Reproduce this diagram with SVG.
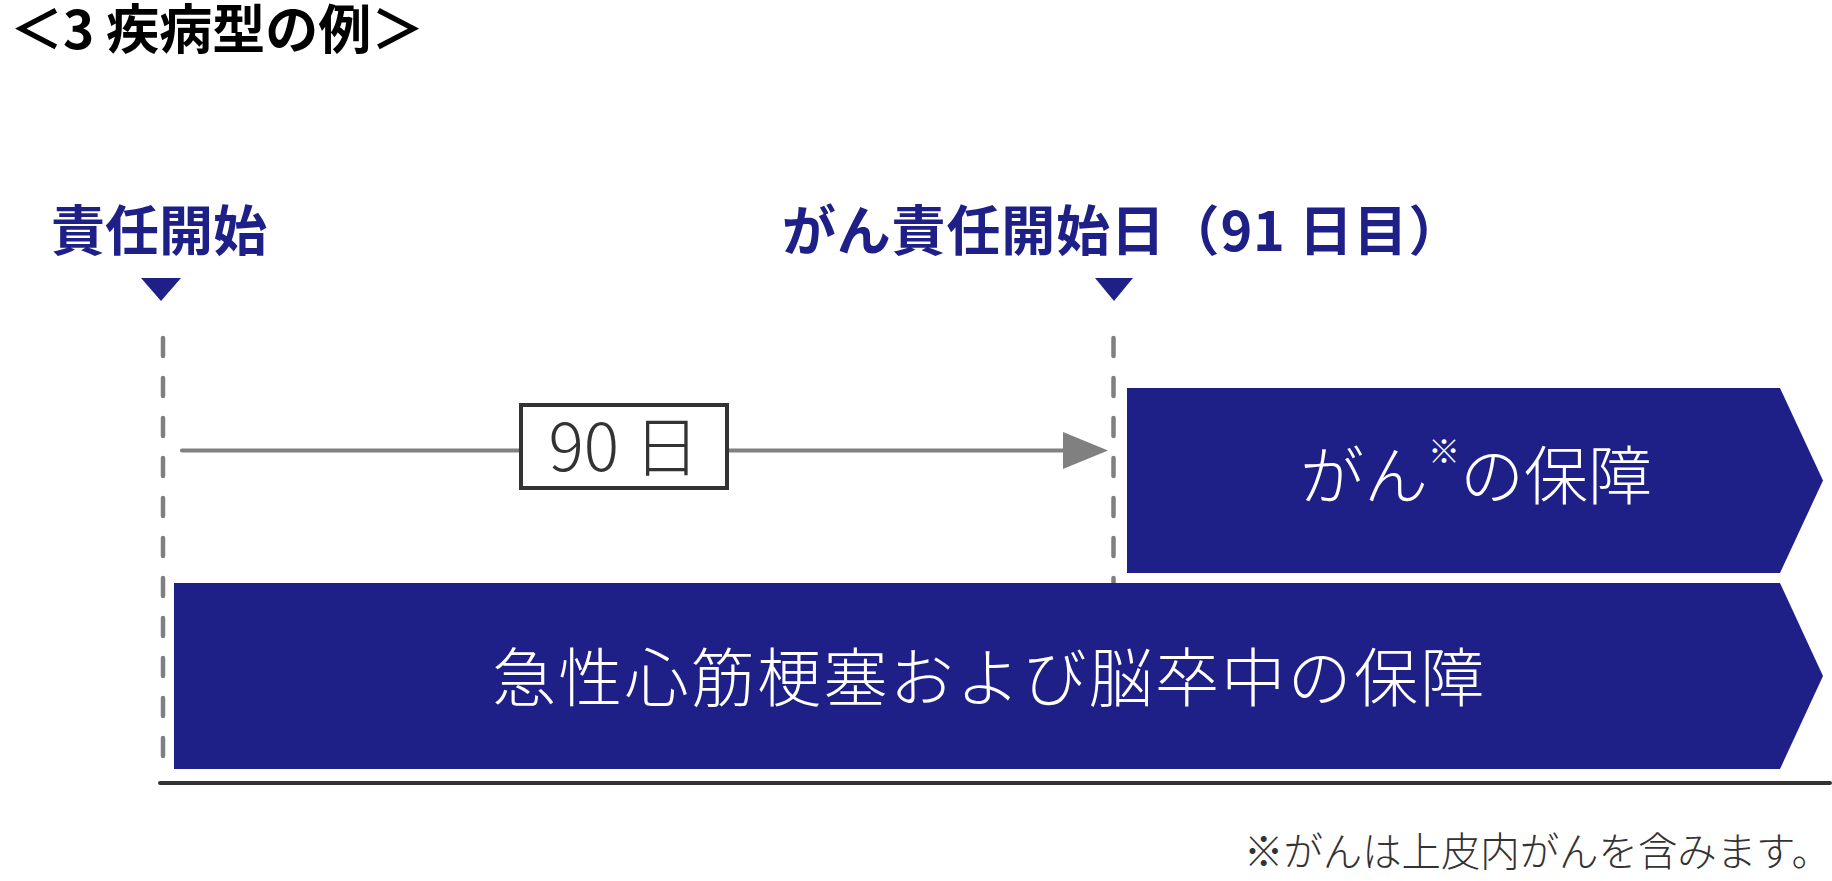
<svg xmlns="http://www.w3.org/2000/svg" width="1832" height="881" viewBox="0 0 1832 881">
<defs>
<style>
.jp{font-family:"Noto Sans CJK JP","Noto Sans",sans-serif}
.bold{font-weight:700}
.navy{fill:#1E2088}
.title{font-size:53px;fill:#000}
.label{font-size:54px}
.band{fill:#1E2088}
.bandtxt{font-size:64px;font-weight:300;fill:#fff}
.dash{stroke:#808080;stroke-width:4.5;stroke-linecap:round;stroke-dasharray:18 22;fill:none}
.foot{font-size:39.4px;font-weight:300;fill:#333}
</style>
</defs>
<rect width="1832" height="881" fill="#fff"/>

<g id="title">
<text class="jp bold title" x="10" y="49">＜3 疾病型の例＞</text>
</g>

<g id="start-label">
<text class="jp bold label navy" x="51" y="251">責任開始</text>
<polygon class="navy" points="141,278 181,278 161,301"/>
</g>

<g id="cancer-start-label">
<text class="jp bold label navy" x="782" y="251" letter-spacing="0.8">がん責任開始日（91 日目）</text>
<polygon class="navy" points="1095,278 1133,278 1114,301"/>
</g>

<g id="connectors">
<line class="dash" x1="163" y1="338" x2="163" y2="757"/>
<line class="dash" x1="1113.5" y1="338" x2="1113.5" y2="590"/>
<line x1="182" y1="450.5" x2="1080" y2="450.5" stroke="#808080" stroke-width="4" stroke-linecap="round"/>
<polygon points="1063,432 1108,450.5 1063,469" fill="#808080"/>
<line x1="160" y1="783" x2="1830" y2="783" stroke="#333" stroke-width="4" stroke-linecap="round"/>
</g>

<g id="days-box">
<rect x="521" y="405" width="206" height="83" fill="#fff" stroke="#333" stroke-width="4"/>
<text class="jp" x="624" y="471" font-size="66" font-weight="300" fill="#333" text-anchor="middle">90 日</text>
</g>

<g id="cancer-band">
<polygon class="band" points="1127,388 1780,388 1823,480.5 1780,573 1127,573"/>
<text class="jp bandtxt" x="1300" y="499">がん<tspan font-size="32" dy="-36">※</tspan><tspan dy="36">の保障</tspan></text>
</g>

<g id="heart-band">
<polygon class="band" points="174,583 1780,583 1823,676 1780,769 174,769"/>
<text class="jp bandtxt" x="492" y="701" font-size="65" letter-spacing="2.3">急性心筋梗塞および脳卒中の保障</text>
</g>

<g id="footnote">
<text class="jp foot" x="1244" y="866">※がんは上皮内がんを含みます。</text>
</g>
</svg>
